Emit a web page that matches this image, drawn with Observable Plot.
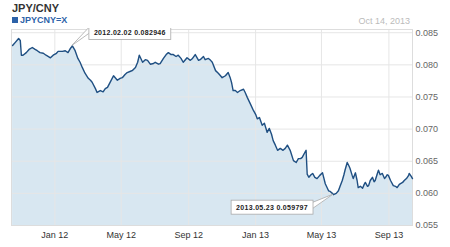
<!DOCTYPE html>
<html><head><meta charset="utf-8">
<script src="https://cdn.jsdelivr.net/npm/d3@7"></script>
<script src="https://cdn.jsdelivr.net/npm/@observablehq/plot@0.6"></script>
<style>
body{margin:0;background:#fff;font-family:Arial,"Liberation Sans",sans-serif;}
#wrap{position:relative;width:450px;height:247px;overflow:hidden;background:#fff}
#head{position:relative;height:28px}
#title{position:absolute;left:12px;top:3px;font-size:11px;line-height:11px;font-weight:bold;color:#333}
#legend{position:absolute;left:12px;top:15.5px;font-size:9px;line-height:9px;font-weight:bold;color:#2d62a8;white-space:nowrap}
#legend span.sw{display:inline-block;width:6px;height:6px;background:#2d62a8;margin-right:2px;vertical-align:0px}
#date{position:absolute;right:40px;top:17px;font-size:9px;line-height:9px;color:#bbb;white-space:nowrap}
</style></head>
<body><div id="wrap">
<div id="head"><div id="title">JPY/CNY</div><div id="legend"><span class="sw"></span>JPYCNY=X</div><div id="date">Oct 14, 2013</div></div>
<div id="chart"></div>
</div>
<script>
const title = "JPY/CNY";
const seriesName = "JPYCNY=X";
const asOf = "Oct 14, 2013";
const xStart = "2011-10-14", xEnd = "2013-10-14";
const yMin = 0.055, yMax = 0.0855;
const yTicks = [0.055, 0.060, 0.065, 0.070, 0.075, 0.080, 0.085];

const dates = [
 "2011-10-16","2011-10-21","2011-10-27","2011-10-30",
 "2011-11-01","2011-11-04","2011-11-10","2011-11-15","2011-11-21","2011-11-26","2011-11-30",
 "2011-12-05","2011-12-11","2011-12-16","2011-12-24","2011-12-29",
 "2012-01-04","2012-01-07","2012-01-15","2012-01-20","2012-01-25","2012-01-29",
 "2012-02-02","2012-02-07","2012-02-12","2012-02-16","2012-02-20","2012-02-25",
 "2012-03-02","2012-03-06","2012-03-09","2012-03-15","2012-03-18","2012-03-24","2012-03-29",
 "2012-04-02","2012-04-06","2012-04-11","2012-04-17","2012-04-24","2012-04-29",
 "2012-05-03","2012-05-08","2012-05-12","2012-05-18","2012-05-21","2012-05-27","2012-05-31",
 "2012-06-03","2012-06-09","2012-06-14","2012-06-18","2012-06-23","2012-06-29",
 "2012-07-02","2012-07-08","2012-07-11","2012-07-17","2012-07-22","2012-07-26","2012-07-31",
 "2012-08-04","2012-08-09","2012-08-13","2012-08-18","2012-08-22","2012-08-26","2012-08-29",
 "2012-09-04","2012-09-08","2012-09-13","2012-09-19","2012-09-22","2012-09-28",
 "2012-10-01","2012-10-07","2012-10-11","2012-10-14","2012-10-20","2012-10-25","2012-10-29",
 "2012-11-01","2012-11-07","2012-11-12","2012-11-16","2012-11-18","2012-11-21","2012-11-25","2012-11-29",
 "2012-12-04","2012-12-10","2012-12-13","2012-12-17","2012-12-22","2012-12-28",
 "2013-01-01","2013-01-04","2013-01-08","2013-01-13","2013-01-17","2013-01-22","2013-01-26","2013-01-30",
 "2013-02-02","2013-02-06","2013-02-10","2013-02-15","2013-02-20","2013-02-24","2013-02-28",
 "2013-03-05","2013-03-11","2013-03-16","2013-03-20","2013-03-24","2013-03-27",
 "2013-04-01","2013-04-03","2013-04-05","2013-04-08","2013-04-12","2013-04-15","2013-04-19","2013-04-23","2013-04-28",
 "2013-05-03","2013-05-08","2013-05-14","2013-05-17","2013-05-21","2013-05-23","2013-05-28",
 "2013-06-01","2013-06-04","2013-06-08","2013-06-11","2013-06-13","2013-06-17","2013-06-20","2013-06-22","2013-06-26","2013-06-28",
 "2013-07-02","2013-07-05","2013-07-07","2013-07-11","2013-07-15","2013-07-18","2013-07-20","2013-07-24","2013-07-26","2013-07-29",
 "2013-08-02","2013-08-05","2013-08-07","2013-08-11","2013-08-13","2013-08-16","2013-08-20","2013-08-24","2013-08-26","2013-08-29","2013-08-31",
 "2013-09-04","2013-09-09","2013-09-13","2013-09-16","2013-09-20","2013-09-26","2013-09-29",
 "2013-10-03","2013-10-07","2013-10-08","2013-10-12","2013-10-14"
];
const rates = [
 0.0830,0.0835,0.0841,0.0838,
 0.0815,0.0815,0.0819,0.0824,0.0827,0.0824,0.0822,
 0.0819,0.0818,0.0815,0.0811,0.0815,
 0.0818,0.0821,0.0821,0.0822,0.0819,0.0825,
 0.082946,0.0822,0.0810,0.0804,0.0796,0.0787,
 0.0779,0.0776,0.0773,0.0763,0.0757,0.0760,0.0758,
 0.0763,0.0765,0.0773,0.0783,0.0776,0.0779,
 0.0780,0.0785,0.0788,0.0790,0.0791,0.0796,0.0804,
 0.0815,0.0804,0.0808,0.0807,0.0801,0.0802,
 0.0804,0.0801,0.0802,0.0810,0.0816,0.0819,0.0816,
 0.0816,0.0813,0.0815,0.0810,0.0804,0.0808,0.0811,
 0.0807,0.0810,0.0816,0.0807,0.0808,0.0813,
 0.0808,0.0810,0.0807,0.0804,0.0791,0.0787,0.0783,
 0.0780,0.0783,0.0788,0.0779,0.0773,0.0760,0.0760,0.0757,
 0.0760,0.0762,0.0757,0.0749,0.0740,0.0729,
 0.0723,0.0716,0.0718,0.0706,0.0709,0.0695,0.0701,0.0692,
 0.0682,0.0675,0.0667,0.0670,0.0667,0.0670,0.0675,
 0.0667,0.0651,0.0648,0.0654,0.0654,0.0656,
 0.0664,0.0667,0.0630,0.0625,0.0629,0.0631,0.0625,0.0623,0.0628,
 0.0632,0.0615,0.0604,0.0603,0.0600,0.059797,0.0600,
 0.0604,0.0611,0.0620,0.0629,0.0636,0.0648,0.0643,0.0639,0.0628,0.0623,
 0.0632,0.0620,0.0609,0.0611,0.0608,0.0614,0.0617,0.0611,0.0612,0.0620,
 0.0625,0.0618,0.0620,0.0631,0.0636,0.0629,0.0631,0.0623,0.0625,0.0629,0.0628,
 0.0620,0.0612,0.0611,0.0609,0.0614,0.0617,0.0620,
 0.0623,0.0628,0.0631,0.0626,0.0623
];
const noteDates = ["2012-02-02", "2013-05-23"];
const noteValues = [0.082946, 0.059797];
const noteLabels = ["2012.02.02 0.082946", "2013.05.23 0.059797"];
const noteSides = ["above-right", "below-left"];

const parse = d3.utcParse("%Y-%m-%d");
const data = dates.map((d, i) => ({date: parse(d), value: rates[i]}));
const notes = noteDates.map((d, i) => ({date: parse(d), value: noteValues[i], label: noteLabels[i], side: noteSides[i]}));

const chart = Plot.plot({
  width: 450, height: 219,
  marginTop: 1, marginBottom: 22, marginLeft: 11, marginRight: 38,
  style: {fontFamily: "Arial, 'Liberation Sans', sans-serif", fontSize: "9px", color: "#444", background: "#fff"},
  x: {type: "utc", domain: [parse(xStart), parse(xEnd)]},
  y: {domain: [yMin, yMax]},
  marks: [
    Plot.areaY(data, {x: "date", y1: yMin, y2: "value", fill: "#d8e7f1"}),
    Plot.gridY(yTicks, {stroke: "#e6e6e6", strokeOpacity: 1}),
    Plot.gridX({ticks: d3.utcMonth.every(4), stroke: "#e6e6e6", strokeOpacity: 1}),
    Plot.frame({stroke: "#dddddd"}),
    Plot.lineY(data, {x: "date", y: "value", stroke: "#1f4f82", strokeWidth: 1.4}),
    Plot.axisX({ticks: d3.utcMonth.every(4), tickFormat: d3.utcFormat("%b %y"), tickSize: 0, tickPadding: 6, fill: "#333", label: null}),
    Plot.axisY(yTicks, {anchor: "right", tickSize: 0, tickPadding: 3, tickFormat: d3.format(".3f"), fill: "#666", label: null})
  ]
});
document.getElementById("chart").appendChild(chart);

// callouts anchored on data points via the chart's own scales
const sx = chart.scale("x"), sy = chart.scale("y");
const svg = d3.select(chart);
notes.forEach(n => {
  const px = sx.apply(n.date), py = sy.apply(n.value);
  const g = svg.append("g").attr("text-anchor", "start");
  const path = g.append("path");
  const rect = g.append("rect");
  const t = g.append("text").text(n.label)
    .attr("text-anchor", "start")
    .attr("font-size", 7).attr("font-weight", "bold").attr("fill", "#222")
    .attr("font-family", "Arial, 'Liberation Sans', sans-serif").attr("letter-spacing", 0.3);
  const w = t.node().getComputedTextLength() + 10, h = 14;
  let left, top;
  if (n.side === "above-right") { left = px + 17; top = py - 20; }
  else { left = px - 20 - w; top = py + 6; }
  rect.attr("x", left).attr("y", top).attr("width", w).attr("height", h)
    .attr("fill", "#fff").attr("stroke", "#aaa").attr("stroke-width", 0.8);
  t.attr("x", left + 5).attr("y", top + 10);
  const ex = n.side === "above-right" ? left : left + w;
  path.attr("d", `M${ex},${top + 2}L${px},${py}L${ex},${top + 8}`)
    .attr("fill", "#fff").attr("stroke", "#aaa").attr("stroke-width", 0.8);
});
</script>
</body></html>
